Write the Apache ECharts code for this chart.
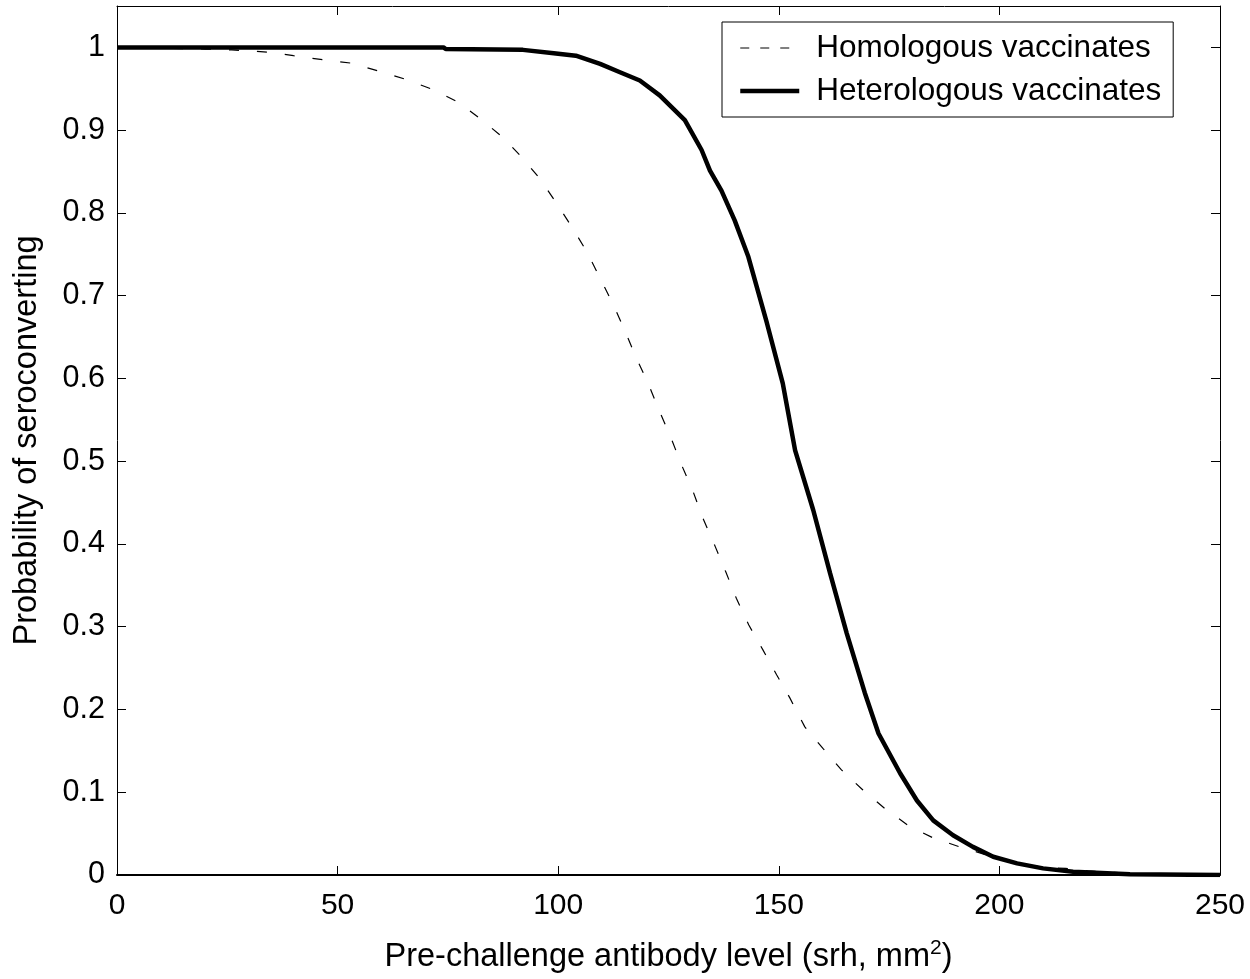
<!DOCTYPE html>
<html>
<head>
<meta charset="utf-8">
<script src="https://cdn.jsdelivr.net/npm/echarts@6/dist/echarts.min.js"></script>
<style>
html,body{margin:0;padding:0;background:#fff;}
#chart{width:1250px;height:979px;}
</style>
</head>
<body>
<div id="chart"></div>
<script>
// ---- Data ----
var homoX = [0, 10, 20, 26, 35, 40, 46.7, 53, 59.6, 65.7, 71.6, 77.3, 82.5, 87.3, 91.8, 95.9, 99.7, 103.1, 106.5, 109.5, 112.4, 115.1, 117.6, 120.4, 122.9, 125.5, 128, 130.6, 132.8, 135.5, 138, 140.4, 143.2, 146.4, 149.5, 152.5, 155.9, 160, 164.2, 169, 174.1, 179.3, 184.9, 191, 198.5, 204, 210, 215, 220, 230, 240, 250];
var homoY = [1.0, 0.999, 0.998, 0.997, 0.994, 0.99, 0.985, 0.981, 0.971, 0.961, 0.949, 0.934, 0.913, 0.892, 0.867, 0.841, 0.811, 0.783, 0.753, 0.721, 0.69, 0.658, 0.626, 0.594, 0.561, 0.529, 0.495, 0.463, 0.431, 0.398, 0.366, 0.334, 0.302, 0.272, 0.242, 0.214, 0.179, 0.153, 0.127, 0.103, 0.08, 0.06, 0.045, 0.034, 0.022, 0.015, 0.009, 0.008, 0.005, 0.002, 0.001, 0.0];

var heteroX = [0, 74, 74.5, 92, 99, 104, 109.5, 114, 118.5, 123, 128.7, 132.5, 134.4, 137, 140, 143.1, 147.3, 150.9, 153.7, 157.8, 161.6, 165.4, 169.5, 172.6, 177.5, 181.3, 185, 189.5, 194, 198.6, 204, 209.9, 216.7, 229.6, 250];
var heteroY = [1.0, 1.0, 0.998, 0.997, 0.993, 0.99, 0.98, 0.97, 0.96, 0.942, 0.912, 0.876, 0.851, 0.827, 0.791, 0.747, 0.667, 0.594, 0.513, 0.441, 0.365, 0.292, 0.22, 0.171, 0.123, 0.09, 0.066, 0.048, 0.034, 0.022, 0.014, 0.008, 0.004, 0.001, 0.0];

var seriesNames = ['Homologous vaccinates', 'Heterologous vaccinates'];
var xTitle = 'Pre-challenge antibody level (srh, mm';
var yTitle = 'Probability of seroconverting';

function pairs(xs, ys) { return xs.map(function (x, i) { return [x, ys[i]]; }); }

var FONT = '"Liberation Sans", Arial, sans-serif';
var chart = echarts.init(document.getElementById('chart'), null, {renderer: 'canvas'});

function yFmt(v) {
  var r = Math.round(v * 10);
  if (Math.abs(v * 10 - r) > 1e-6) return '';
  return String(+(r / 10).toFixed(1));
}

var baseAxisLine = {show: true, onZero: false, lineStyle: {color: '#000', width: 1}};
var baseTick = {show: true, inside: true, length: 9, lineStyle: {color: '#000', width: 1}};
var hiddenSymbol = {color: 'rgba(0,0,0,0)', borderColor: 'rgba(0,0,0,0)', borderWidth: 0, opacity: 0};

var option = {
  backgroundColor: '#fff',
  animation: false,
  grid: {left: 117, right: 30, top: 6, bottom: 104, containLabel: false, outerBoundsMode: 'none'},
  legend: {
    orient: 'vertical',
    left: 722,
    top: 22,
    borderColor: '#000',
    borderWidth: 1,
    backgroundColor: '#fff',
    padding: [10, 12, 10, 16],
    itemGap: 11,
    itemWidth: 59,
    itemHeight: 30,
    itemStyle: hiddenSymbol,
    textStyle: {fontSize: 31.5, fontFamily: FONT, color: '#000', lineHeight: 30, padding: [0, 0, 0, 12]},
    data: [
      {name: seriesNames[0], itemStyle: hiddenSymbol, lineStyle: {type: [9, 11], width: 1, color: '#000'}},
      {name: seriesNames[1], itemStyle: hiddenSymbol, lineStyle: {width: 4.5, color: '#000'}}
    ]
  },
  xAxis: [{
    type: 'value', min: 0, max: 250, interval: 50, position: 'bottom',
    axisLine: {show: true, onZero: false, lineStyle: {color: '#000', width: 2}},
    axisTick: baseTick,
    splitLine: {show: false},
    axisLabel: {fontSize: 30, fontFamily: FONT, color: '#000', margin: 16},
    name: '{a|' + xTitle + '}{s|2}{a|)}',
    nameLocation: 'middle',
    nameGap: 64,
    nameTextStyle: {
      rich: {
        a: {fontSize: 32.5, fontFamily: FONT, color: '#000', lineHeight: 36},
        s: {fontSize: 21, fontFamily: FONT, color: '#000', padding: [0, 0, 18, 0], lineHeight: 36}
      }
    }
  }, {
    type: 'value', min: 0, max: 250, interval: 50, position: 'top',
    axisLine: baseAxisLine,
    axisTick: baseTick,
    splitLine: {show: false},
    axisLabel: {show: false}
  }],
  yAxis: [{
    type: 'value', min: 0, max: 1.05, interval: 0.1, position: 'left',
    axisLine: baseAxisLine,
    axisTick: baseTick,
    splitLine: {show: false},
    axisLabel: {fontSize: 30.5, fontFamily: FONT, color: '#000', margin: 12, formatter: yFmt},
    name: yTitle,
    nameLocation: 'middle',
    nameGap: 73,
    nameTextStyle: {fontSize: 32.5, fontFamily: FONT, color: '#000'}
  }, {
    type: 'value', min: 0, max: 1.05, interval: 0.1, position: 'right',
    axisLine: baseAxisLine,
    axisTick: baseTick,
    splitLine: {show: false},
    axisLabel: {show: false}
  }],
  series: [{
    name: seriesNames[0],
    type: 'line',
    symbol: 'none',
    data: pairs(homoX, homoY),
    lineStyle: {color: '#000', width: 1.2, type: [10, 18]},
    itemStyle: {color: '#000'},
    z: 2
  }, {
    name: seriesNames[1],
    type: 'line',
    symbol: 'none',
    data: pairs(heteroX, heteroY),
    lineStyle: {color: '#000', width: 4.5, type: 'solid'},
    itemStyle: {color: '#000'},
    z: 3
  }]
};
chart.setOption(option);
</script>
</body>
</html>
